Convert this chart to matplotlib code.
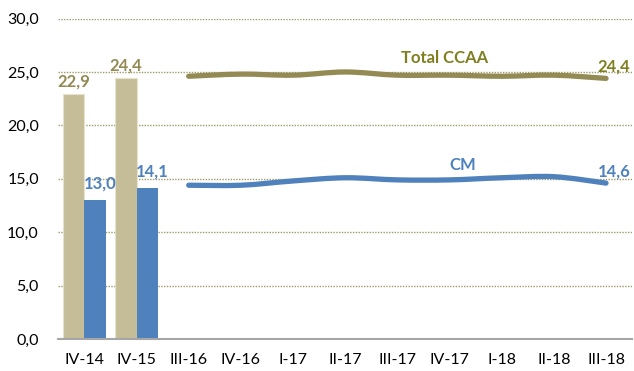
import matplotlib

matplotlib.use("Agg")
import matplotlib.pyplot as plt
import numpy as np
from matplotlib.path import Path
from matplotlib.patches import PathPatch

# Quarterly series
quarters = ["IV-14", "IV-15", "III-16", "IV-16", "I-17", "II-17", "III-17", "IV-17", "I-18", "II-18", "III-18"]
bar_total = [22.9, 24.4]
bar_cm = [13.0, 14.1]
line_total = [24.6, 24.8, 24.7, 25.0, 24.7, 24.7, 24.6, 24.7, 24.4]
line_cm = [14.4, 14.4, 14.8, 15.1, 14.9, 14.9, 15.1, 15.2, 14.6]

TAN = "#C4BD97"
BLUE = "#4F81BD"
OLIVE_LINE = "#948A54"
OLIVE_TEXT = "#7F7F1F"
BAR_LABEL_TAN = "#948A54"

plt.rcParams["font.family"] = ["Lato", "DejaVu Sans"]


def smooth_path(xs, ys, tension=1 / 6):
    """Catmull-Rom style bezier through the points (like a smoothed line)."""
    pts = np.column_stack([xs, ys])
    verts = [pts[0]]
    codes = [Path.MOVETO]
    for i in range(len(pts) - 1):
        p0 = pts[i - 1] if i > 0 else pts[i]
        p1 = pts[i]
        p2 = pts[i + 1]
        p3 = pts[i + 2] if i + 2 < len(pts) else pts[i + 1]
        c1 = p1 + (p2 - p0) * tension
        c2 = p2 - (p3 - p1) * tension
        verts += [c1, c2, p2]
        codes += [Path.CURVE4] * 3
    return Path(verts, codes)


def fmt(v):
    return f"{v:.1f}".replace(".", ",")


fig, ax = plt.subplots(figsize=(6.34, 3.71), dpi=100)
fig.subplots_adjust(left=0.092, right=0.997, top=0.95, bottom=0.086)

x = np.arange(len(quarters))
w = 0.41
bx = x[: len(bar_total)]
ax.bar(bx - w / 2, bar_total, width=w, color=TAN, edgecolor="#E6E2CF", linewidth=0.8, zorder=3)
ax.bar(bx + w / 2, bar_cm, width=w, color=BLUE, zorder=3)

for xi, v in zip(bx, bar_total):
    ax.text(xi - w / 2, v + 0.45, fmt(v), ha="center", va="bottom",
            color=BAR_LABEL_TAN, fontsize=12, fontweight="bold")
for xi, v in zip(bx, bar_cm):
    ax.text(xi + w / 2 + 0.1, v + 0.8, fmt(v), ha="center", va="bottom",
            color=BLUE, fontsize=12, fontweight="bold")

lx = x[len(bar_total):]
for vals, col in [(line_total, OLIVE_LINE), (line_cm, BLUE)]:
    patch = PathPatch(smooth_path(lx, vals), facecolor="none", edgecolor=col, lw=3.8,
                      capstyle="round", zorder=4)
    ax.add_patch(patch)
    ax.plot(lx, vals, alpha=0)

ax.text(lx[-1] + 0.15, line_total[-1] + 0.35, fmt(line_total[-1]),
        ha="center", va="bottom", color=OLIVE_TEXT, fontsize=12, fontweight="bold")
ax.text(lx[-1] + 0.15, line_cm[-1] + 0.35, fmt(line_cm[-1]),
        ha="center", va="bottom", color=BLUE, fontsize=12, fontweight="bold")
ax.text(6.9, 26.3, "Total CCAA", ha="center", va="center", color=OLIVE_TEXT,
        fontsize=12, fontweight="bold")
ax.text(7.25, 16.3, "CM", ha="center", va="center", color=BLUE, fontsize=12, fontweight="bold")

ax.set_xlim(-0.5, len(quarters) - 0.5)
ax.set_ylim(0, 30)
ax.set_yticks(np.arange(0, 31, 5))
ax.set_yticklabels([fmt(t) for t in np.arange(0, 31, 5)])
ax.set_xticks(x)
ax.set_xticklabels(quarters)
ax.tick_params(axis="both", length=0, labelsize=11.5, colors="#000000")
ax.tick_params(axis="x", pad=10)
ax.tick_params(axis="y", pad=14)

ax.grid(axis="y", color="#A09A6A", linestyle=(0, (1, 1)), linewidth=1, zorder=0)
for s in ["top", "right", "left"]:
    ax.spines[s].set_visible(False)
ax.spines["bottom"].set_color("#A6A6A6")
ax.spines["bottom"].set_linewidth(1.5)
ax.spines["bottom"].set_zorder(5)

plt.savefig("out.png", dpi=100)
plt.close()
